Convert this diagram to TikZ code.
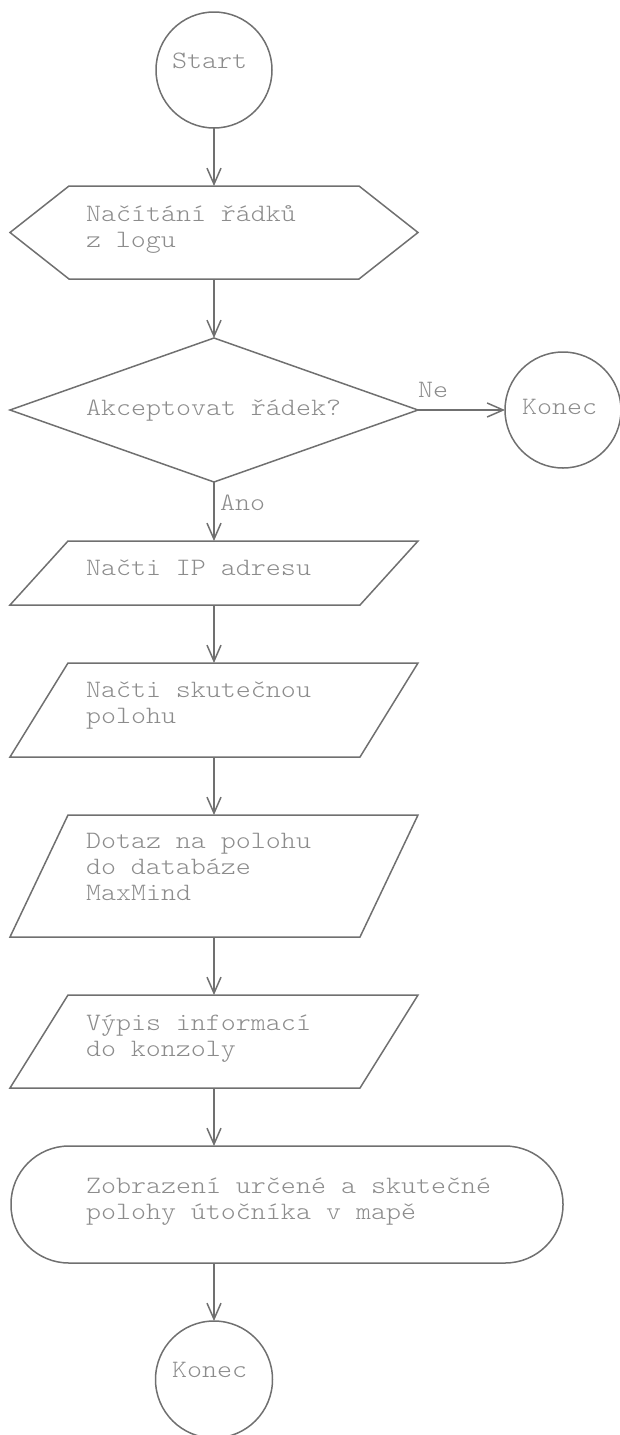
\documentclass[tikz,border=0pt]{standalone}
\usepackage{fontspec}
\setmonofont[FakeStretch=1.143]{Latin Modern Mono Light}
\usetikzlibrary{arrows.meta}
\definecolor{linegray}{RGB}{112,112,112}
\definecolor{textgray}{RGB}{140,140,140}
\begin{document}
\begin{tikzpicture}[x=1pt,y=-1pt,
  box/.style={rectangle, draw=none, inner sep=0pt, outer sep=0pt},
  endpt/.style={circle, draw=linegray, line width=1.5pt, inner sep=0pt, outer sep=0pt, minimum size=116pt},
  outline/.style={draw=linegray, line width=1.5pt, line join=miter},
  flow/.style={draw=linegray, line width=1.5pt, -{Straight Barb[length=16pt,width=14pt]}},
  lbl/.style={text=textgray, font=\ttfamily\fontsize{25}{26}\selectfont, inner sep=0pt, outer sep=0pt, align=left, anchor=base west},
]
\useasboundingbox (0,0) rectangle (619,1435);

% shapes
\node[endpt] (start) at (214,70) {};
\node[box, minimum width=408pt, minimum height=93pt] (hex) at (214,232.5) {};
\draw[outline] (hex.west) -- ([xshift=59pt]hex.north west) -- ([xshift=-59pt]hex.north east) -- (hex.east) -- ([xshift=-59pt]hex.south east) -- ([xshift=59pt]hex.south west) -- cycle;

\node[box, minimum width=408pt, minimum height=144pt] (dec) at (214,410) {};
\draw[outline] (dec.north) -- (dec.east) -- (dec.south) -- (dec.west) -- cycle;

\node[endpt] (end1) at (563,410) {};

\node[box, minimum width=408pt, minimum height=64pt] (p1) at (214,573) {};
\draw[outline] ([xshift=58pt]p1.north west) -- (p1.north east) -- ([xshift=-58pt]p1.south east) -- (p1.south west) -- cycle;

\node[box, minimum width=408pt, minimum height=94pt] (p2) at (214,710) {};
\draw[outline] ([xshift=58pt]p2.north west) -- (p2.north east) -- ([xshift=-58pt]p2.south east) -- (p2.south west) -- cycle;

\node[box, minimum width=408pt, minimum height=122pt] (p3) at (214,876) {};
\draw[outline] ([xshift=58pt]p3.north west) -- (p3.north east) -- ([xshift=-58pt]p3.south east) -- (p3.south west) -- cycle;

\node[box, minimum width=408pt, minimum height=93pt] (p4) at (214,1041.5) {};
\draw[outline] ([xshift=58pt]p4.north west) -- (p4.north east) -- ([xshift=-58pt]p4.south east) -- (p4.south west) -- cycle;

\node[box, minimum width=552pt, minimum height=117pt] (zob) at (287,1204.5) {};
\draw[outline, rounded corners=58pt] (zob.south west) rectangle (zob.north east);

\node[endpt, minimum size=117pt] (end2) at (214,1379.5) {};

% texts (multi-line nodes are placed by the baseline of their last line)
\node[lbl] (tstart) at (172,68) {Start};
\node[lbl] (thex) at (86,247) {Načítání řádků\\z logu};
\node[lbl] (tdec) at (86,415) {Akceptovat řádek?};
\node[lbl] (tend1) at (522,414) {Konec};
\node[lbl] (tne) at (418,397) {Ne};
\node[lbl] (tano) at (220,510) {Ano};
\node[lbl] (tp1) at (86,575) {Načti IP adresu};
\node[lbl] (tp2) at (86,723) {Načti skutečnou\\polohu};
\node[lbl] (tp3) at (86,900) {Dotaz na polohu\\do databáze\\MaxMind};
\node[lbl] (tp4) at (86,1056) {Výpis informací\\do konzoly};
\node[lbl] (tzob) at (86,1219) {Zobrazení určené a skutečné\\polohy útočníka v mapě};
\node[lbl] (tend2) at (172,1377) {Konec};

% connectors
\draw[flow] (start.south) -- (hex.north);
\draw[flow] (hex.south) -- (dec.north);
\draw[flow] (dec.east) -- (end1.west);
\draw[flow] (dec.south) -- (p1.north);
\draw[flow] (p1.south) -- (p2.north);
\draw[flow] (p2.south) -- (p3.north);
\draw[flow] (p3.south) -- (p4.north);
\draw[flow] (p4.south) -- (zob.north -| p4.south);
\draw[flow] (zob.south -| p4.south) -- (end2.north);
\end{tikzpicture}
\end{document}
